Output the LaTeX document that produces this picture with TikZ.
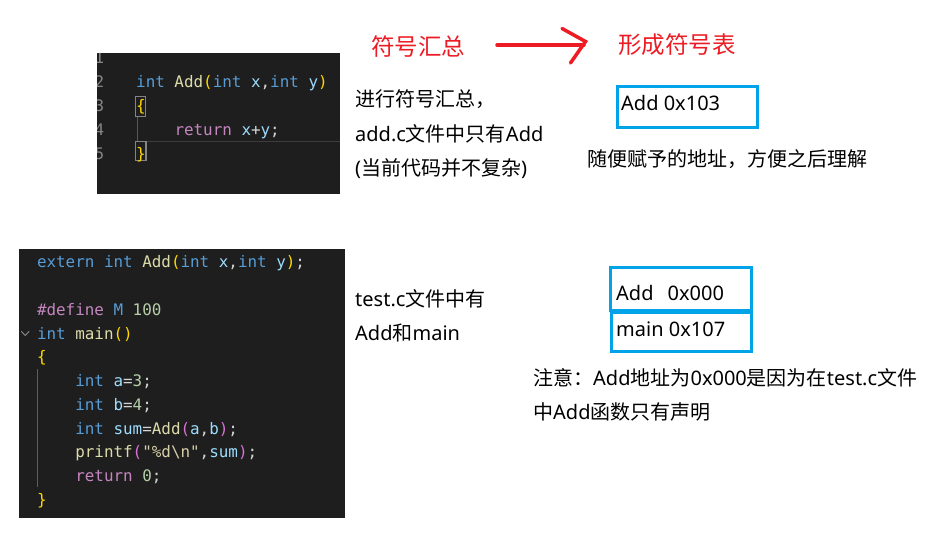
\documentclass[tikz,border=0pt]{standalone}
\usepackage{fontspec}
\newfontfamily\cjk{Noto Sans CJK SC}
\newfontfamily\latinfont{Noto Sans}
\newfontfamily\mono{DejaVu Sans Mono}
\definecolor{codebg}{HTML}{1E1E1E}
\definecolor{vkw}{HTML}{569CD6}
\definecolor{vfn}{HTML}{DCDCAA}
\definecolor{vvar}{HTML}{9CDCFE}
\definecolor{vbr}{HTML}{FFD700}
\definecolor{vpk}{HTML}{DA70D6}
\definecolor{vctl}{HTML}{C586C0}
\definecolor{vnum}{HTML}{B5CEA8}
\definecolor{vtxt}{HTML}{D4D4D4}
\definecolor{vstr}{HTML}{D8CFA8}
\definecolor{vln}{HTML}{858585}
\definecolor{paintred}{HTML}{ED1C24}
\definecolor{paintblue}{HTML}{00A2E8}
\newcommand\Ckw[1]{\textcolor{vkw}{#1}}
\newcommand\Cfn[1]{\textcolor{vfn}{#1}}
\newcommand\Cvar[1]{\textcolor{vvar}{#1}}
\newcommand\Cbr[1]{\textcolor{vbr}{#1}}
\newcommand\Cpk[1]{\textcolor{vpk}{#1}}
\newcommand\Cctl[1]{\textcolor{vctl}{#1}}
\newcommand\Cnum[1]{\textcolor{vnum}{#1}}
\newcommand\Cstr[1]{\textcolor{vstr}{#1}}
\newcommand\Lat[1]{{\latinfont #1}}
\tikzset{
  codeline/.style={anchor=base west, inner sep=0pt, text=vtxt, font=\mono\fontsize{15.9}{19}\selectfont},
  lnum/.style={anchor=base east, inner sep=0pt, text=vln, font=\mono\fontsize{15.9}{19}\selectfont},
  cntext/.style={anchor=base west, inner sep=0pt, text=black, font=\cjk\fontsize{20}{24}\selectfont},
  redtitle/.style={anchor=base west, inner sep=0pt, text=paintred, font=\cjk\fontsize{23.5}{28}\selectfont},
  symbox/.style={draw=paintblue, line width=3pt},
  redstroke/.style={draw=paintred, line width=3.5pt, line cap=round},
}
\begin{document}
\begin{tikzpicture}[x=1pt,y=-1pt]
\useasboundingbox (0,0) rectangle (941,533);
\fill[white] (0,0) rectangle (941,533);

% ---------- top code box ----------
\fill[codebg] (97,53) rectangle (340,194);
\begin{scope}
\clip (97,53) rectangle (340,194);
\node[lnum] (n1) at (104.5,63.5) {1};
\node[lnum] (n2) at (104.5,87.5) {2};
\node[lnum] (n3) at (104.5,111.5) {3};
\node[lnum] (n4) at (104.5,135.5) {4};
\node[lnum] (n5) at (104.5,159.5) {5};
\end{scope}
\draw[color=white!14!codebg, line width=1pt] (146,141.5) -- (340,141.5);
\draw[color=white!25!codebg, line width=1pt] (137,117) -- (137,141);
\draw[color=vln, line width=0.8pt] (135.8,96.5) rectangle (145.3,116.7);
\draw[color=vln, line width=0.8pt] (135.8,141.5) rectangle (146.2,160.5);
\fill[color=vln] (145.2,141.5) rectangle (147.2,160.5);
\node[codeline] (t2) at (136,87.5) {\Ckw{int} \Cfn{Add}\Cbr{(}\Ckw{int} \Cvar{x},\Ckw{int} \Cvar{y}\Cbr{)}};
\node[codeline] (t3) at (136,111.5) {\Cbr{\{}};
\node[codeline] (t4) at (174.3,135.5) {\Cctl{return} \Cvar{x}+\Cvar{y};};
\node[codeline] (t5) at (136,159.5) {\Cbr{\}}};

% ---------- bottom code box ----------
\fill[codebg] (19,249) rectangle (345,518);
\draw[color=white!28!codebg, line width=1pt] (37.3,369) -- (37.3,487);
\draw[color=vln, line width=1pt, line cap=round, line join=round] (21.5,331.5) -- (25.2,335.5) -- (28.9,331.5);
\node[codeline] (b1) at (36.8,267.7) {\Ckw{extern} \Ckw{int} \Cfn{Add}\Cbr{(}\Ckw{int} \Cvar{x},\Ckw{int} \Cvar{y}\Cbr{)};};
\node[codeline] (b3) at (36.8,315.3) {\Cctl{\#define} \Ckw{M} \Cnum{100}};
\node[codeline] (b4) at (36.8,339.0) {\Ckw{int} \Cfn{main}\Cbr{()}};
\node[codeline] (b5) at (36.8,362.8) {\Cbr{\{}};
\node[codeline] (b6) at (75.1,386.6) {\Ckw{int} \Cvar{a}=\Cnum{3};};
\node[codeline] (b7) at (75.1,410.4) {\Ckw{int} \Cvar{b}=\Cnum{4};};
\node[codeline] (b8) at (75.1,434.1) {\Ckw{int} \Cvar{sum}=\Cfn{Add}\Cpk{(}\Cvar{a},\Cvar{b}\Cpk{)};};
\node[codeline] (b9) at (75.1,457.9) {\Cfn{printf}\Cpk{(}\Cstr{"\%d\textbackslash n"},\Cvar{sum}\Cpk{)};};
\node[codeline] (b10) at (75.1,481.7) {\Cctl{return} \Cnum{0};};
\node[codeline] (b11) at (36.8,505.5) {\Cbr{\}}};

% ---------- red titles and arrow ----------
\node[redtitle] (title1) at (371,55) {符号汇总};
\node[redtitle] (title2) at (618,53) {形成符号表};
\coordinate (arrS) at (497,45);
\coordinate (arrE) at (584,45);
\coordinate (tipA) at (562,28.5);
\coordinate (tipB) at (585.5,41.5);
\coordinate (tipC) at (570.5,63);
\draw[redstroke] (arrS) -- (arrE);
\draw[redstroke] (tipA) -- (tipB) -- (tipC);

% ---------- explanation texts ----------
\node[cntext] (e1) at (355,106.5) {进行符号汇总，};
\node[cntext] (e2) at (355,141.5) {\Lat{add.c}文件中只有\Lat{Add}};
\node[cntext] (e3) at (355,175.5) {\Lat{(}当前代码并不复杂\Lat{)}};
\node[cntext] (e4) at (355,306) {\Lat{test.c}文件中有};
\node[cntext] (e5) at (355,340) {\Lat{Add}和\Lat{main}};

% ---------- symbol tables ----------
\draw[symbox] (617,86) rectangle (757,127);
\node[cntext] (s1) at (621,110) {\Lat{Add 0x103}};
\node[cntext] (note1) at (587,166.5) {随便赋予的地址，方便之后理解};

\draw[symbox] (610,267) rectangle (751.5,310);
\draw[symbox] (611,312) rectangle (751.5,351.5);
\node[cntext] (s2a) at (616,300.5) {\Lat{Add}};
\node[cntext] (s2b) at (667.5,300.5) {\Lat{0x000}};
\node[cntext] (s3) at (616,336.5) {\Lat{main 0x107}};
\node[cntext] (note2) at (533,385.5) {注意：\Lat{Add}地址为\Lat{0x000}是因为在\Lat{test.c}文件};
\node[cntext] (note3) at (533,419.5) {中\Lat{Add}函数只有声明};
\end{tikzpicture}
\end{document}
